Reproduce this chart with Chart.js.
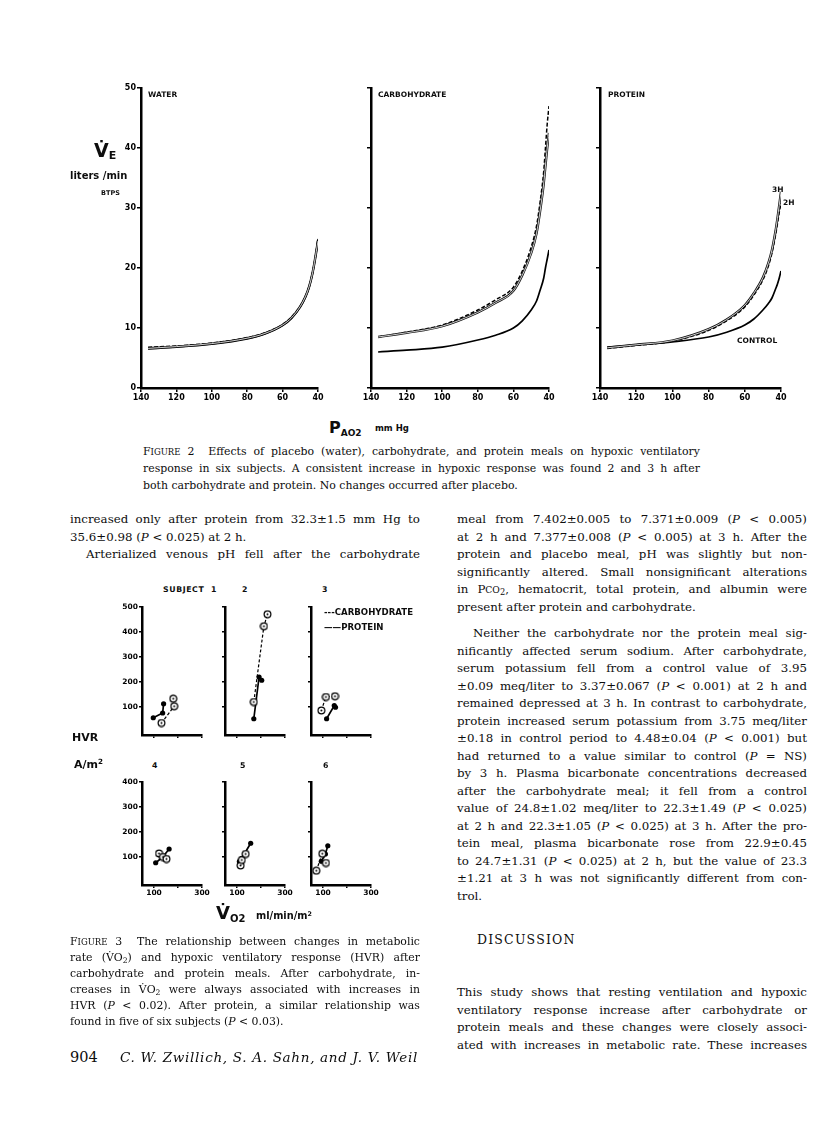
<!DOCTYPE html>
<html>
<head>
<meta charset="utf-8">
<script src="https://cdn.jsdelivr.net/npm/chart.js@4.4.0/dist/chart.umd.min.js"></script>
<style>
  html, body { margin: 0; padding: 0; background: #fff; }
  #page { position: relative; width: 816px; height: 1127px; overflow: hidden; background: #fff; color: #0d0d0d; }
  canvas { position: absolute; }
  .t { position: absolute; white-space: nowrap; }
  .sans { font-family: "DejaVu Sans", sans-serif; font-weight: bold; }
  .body { font-family: "DejaVu Serif", serif; font-size: 11.8px; }
  .cap { font-family: "DejaVu Serif", serif; font-size: 10.9px; }
  small { font-size: 78%; }
  sub { font-size: 70%; line-height: 0; vertical-align: -0.3em; }
  sup { font-size: 65%; line-height: 0; vertical-align: 0.5em; }
</style>
</head>
<body>
<div id="page"></div>
<script>
// Figure 2: ventilation (liters/min BTPS) against alveolar PO2 (mm Hg)
const pao2 = [136, 120, 100, 80, 70, 60, 55, 50, 47, 45, 43, 42, 41, 40];
const pao2Ticks = [140, 120, 100, 80, 60, 40];
const veTicks = [0, 10, 20, 30, 40, 50];

const waterControl = [6.5, 6.8, 7.3, 8.2, 9.0, 10.4, 11.6, 13.5, 15.2, 16.8, 19.2, 20.8, 22.6, 24.8];
const water2h = [6.8, 7.0, 7.5, 8.4, 9.2, 10.6, 11.8, 13.7, 15.4, 17.0, 19.4, 21.0, 22.8, 25.0];
const water3h = [6.6, 6.9, 7.4, 8.3, 9.1, 10.5, 11.7, 13.6, 15.3, 16.9, 19.3, 20.9, 22.7, 24.5];

const carboControl = [6.0, 6.3, 6.8, 8.0, 8.8, 10.0, 11.2, 13.0, 14.5, 16.3, 18.3, 20.0, 21.5, 23.0];
const carbo2h = [8.5, 9.3, 10.5, 13.0, 14.7, 16.8, 19.5, 23.5, 27.0, 31.0, 36.0, 40.0, 44.0, 47.0];
const carbo3h = [8.5, 9.2, 10.3, 12.6, 14.2, 16.2, 18.8, 22.5, 25.8, 29.5, 34.0, 37.0, 40.0, 42.5];

const proteinControl = [6.8, 7.2, 7.7, 8.5, 9.3, 10.5, 11.5, 13.0, 14.1, 15.0, 16.5, 17.3, 18.3, 19.5];
const protein2h = [6.6, 7.1, 7.8, 9.6, 11.2, 13.5, 15.5, 18.0, 20.3, 22.5, 25.5, 27.3, 29.2, 30.8];
const protein3h = [6.7, 7.2, 7.9, 9.8, 11.4, 13.8, 15.8, 18.4, 20.8, 23.0, 26.2, 28.2, 30.4, 32.7];

// Figure 3: HVR (A/m2) against VO2 (ml/min/m2), subjects 1-6, control / 2 h / 3 h
const carboVO2 = [[131, 184, 180], [170, 212, 227], [93, 112, 150], [121, 137, 152], [115, 120, 136], [72, 97, 112]];
const carboHVR = [[36, 103, 133], [120, 423, 471], [86, 140, 143], [114, 100, 92], [66, 88, 112], [45, 113, 76]];
const proteinVO2 = [[97, 136, 140], [170, 192, 203], [115, 147, 152], [107, 135, 163], [110, 120, 157], [93, 110, 120]];
const proteinHVR = [[57, 76, 113], [53, 220, 207], [53, 106, 99], [77, 98, 132], [82, 95, 155], [83, 112, 145]];
const hvrTicksTop = [100, 200, 300, 400, 500];
const hvrTicksBottom = [100, 200, 300, 400];
const vo2Ticks = [100, 200, 300];
const vo2TickLabels = [100, 300];

const page = document.getElementById('page');

// one line of text; w given = justified across w px
function txt(cls, x, yc, html, w, lh) {
  lh = lh || 16;
  const d = document.createElement('div');
  d.className = 't ' + cls;
  d.style.left = x + 'px';
  d.style.top = (yc - lh / 2) + 'px';
  d.style.lineHeight = lh + 'px';
  if (w) {
    d.style.width = w + 'px';
    d.style.display = 'flex';
    d.style.justifyContent = 'space-between';
    d.innerHTML = html.split(' ').map(s => '<span>' + s + '</span>').join('');
  } else {
    d.innerHTML = html;
  }
  page.appendChild(d);
  if (w) {
    let fs = parseFloat(getComputedStyle(d).fontSize);
    let guard = 0;
    while (d.scrollWidth > w + 0.5 && guard++ < 30) {
      fs -= 0.15;
      d.style.fontSize = fs + 'px';
    }
  }
  return d;
}

const tickFont = { family: 'DejaVu Sans', weight: 'bold', size: 8 };
const axisGrid = { drawOnChartArea: false, drawTicks: true, tickLength: 4, color: '#000', lineWidth: 1.5 };
const axisBorder = { display: true, color: '#000', width: 2.5 };

const pts = arr => pao2.map((p, i) => ({ x: p, y: arr[i] }));

function curvePanel(L, T, R, B, control, h2, h3, showY) {
  const padTop = 8, padRight = 12, yw = 36, xh = 22;
  const c = document.createElement('canvas');
  c.width = R - L + yw + padRight;
  c.height = B - T + padTop + xh;
  c.style.left = (L - yw) + 'px';
  c.style.top = (T - padTop) + 'px';
  page.appendChild(c);

  new Chart(c, {
    type: 'line',
    data: {
      datasets: [
        { data: pts(h3), borderColor: '#fff', borderWidth: 0.8, order: 0 },
        { data: pts(h3), borderColor: '#111', borderWidth: 2.4, order: 1 },
        { data: pts(h2), borderColor: '#000', borderWidth: 1.5, borderDash: [4, 2], order: 2 },
        { data: pts(control), borderColor: '#000', borderWidth: 1.7, order: 3 },
      ],
    },
    options: {
      responsive: false,
      animation: false,
      events: [],
      layout: { padding: { top: padTop, right: padRight, left: 0, bottom: 0 } },
      plugins: { legend: { display: false }, tooltip: { enabled: false } },
      elements: { point: { radius: 0 }, line: { cubicInterpolationMode: 'monotone' } },
      scales: {
        x: {
          type: 'linear', reverse: true, min: 40, max: 140,
          afterBuildTicks: a => { a.ticks = pao2Ticks.map(v => ({ value: v })); },
          afterFit: s => { s.height = xh; },
          grid: axisGrid, border: axisBorder,
          ticks: { font: tickFont, color: '#000', padding: 1, maxRotation: 0, autoSkip: false },
        },
        y: {
          type: 'linear', min: 0, max: 50,
          afterBuildTicks: a => { a.ticks = veTicks.map(v => ({ value: v })); },
          afterFit: s => { s.width = yw; },
          grid: axisGrid, border: axisBorder,
          ticks: { font: tickFont, color: '#000', padding: 1, callback: v => (showY ? String(v) : '') },
        },
      },
    },
  });
}

curvePanel(141, 88, 318, 388, waterControl, water2h, water3h, true);
curvePanel(371, 88, 549, 388, carboControl, carbo2h, carbo3h, false);
curvePanel(600, 88, 781, 388, proteinControl, protein2h, protein3h, false);

// open circle with a dot, used for the carbohydrate points
const ring = document.createElement('canvas');
ring.width = 9; ring.height = 9;
(() => {
  const g = ring.getContext('2d');
  g.beginPath(); g.arc(4.5, 4.5, 3.4, 0, Math.PI * 2);
  g.fillStyle = '#fff'; g.fill();
  g.lineWidth = 1.2; g.strokeStyle = '#000'; g.stroke();
  g.beginPath(); g.arc(4.5, 4.5, 1, 0, Math.PI * 2);
  g.fillStyle = '#000'; g.fill();
})();

function hvrPanel(i, L, T, B, ymax, yTicks, showY, showX) {
  const yw = 30, pr = 10, pt = 7, xh = 16;
  const c = document.createElement('canvas');
  c.width = 60 + yw + pr;
  c.height = B - T + pt + xh;
  c.style.left = (L - yw) + 'px';
  c.style.top = (T - pt) + 'px';
  page.appendChild(c);

  new Chart(c, {
    type: 'scatter',
    data: {
      datasets: [
        {
          data: carboVO2[i].map((x, k) => ({ x, y: carboHVR[i][k] })),
          showLine: true, borderColor: '#000', borderWidth: 1.2, borderDash: [3, 2],
          pointStyle: ring,
        },
        {
          data: proteinVO2[i].map((x, k) => ({ x, y: proteinHVR[i][k] })),
          showLine: true, borderColor: '#000', borderWidth: 1.7,
          pointStyle: 'circle', pointRadius: 2.6, pointBackgroundColor: '#000', pointBorderWidth: 0,
        },
      ],
    },
    options: {
      responsive: false,
      animation: false,
      events: [],
      layout: { padding: { top: pt, right: pr, left: 0, bottom: 0 } },
      plugins: { legend: { display: false }, tooltip: { enabled: false } },
      scales: {
        x: {
          type: 'linear', min: 50, max: 300,
          afterBuildTicks: a => { a.ticks = vo2Ticks.map(v => ({ value: v })); },
          afterFit: s => { s.height = xh; },
          grid: { ...axisGrid, tickLength: 3 }, border: axisBorder,
          ticks: {
            font: { ...tickFont, size: 7.5 }, color: '#000', padding: 1, maxRotation: 0, autoSkip: false,
            callback: v => (showX && vo2TickLabels.includes(v) ? String(v) : ''),
          },
        },
        y: {
          type: 'linear', min: -12, max: ymax,
          afterBuildTicks: a => { a.ticks = yTicks.map(v => ({ value: v })); },
          afterFit: s => { s.width = yw; },
          grid: { ...axisGrid, tickLength: 3 }, border: axisBorder,
          ticks: { font: { ...tickFont, size: 7.5 }, color: '#000', padding: 1, callback: v => (showY ? String(v) : '') },
        },
      },
    },
  });
}

const colLeft = [142, 225, 311];
for (let k = 0; k < 3; k++) {
  hvrPanel(k, colLeft[k], 607, 735, 500, hvrTicksTop, k === 0, false);
  hvrPanel(k + 3, colLeft[k], 782, 885, 400, hvrTicksBottom, k === 0, true);
}

// ---- Figure 2 labels ----
txt('sans', 148, 95, 'WATER', 0, 10).style.fontSize = '7.5px';
txt('sans', 378, 95, 'CARBOHYDRATE', 0, 10).style.fontSize = '7.5px';
txt('sans', 608, 95, 'PROTEIN', 0, 10).style.fontSize = '7.5px';
txt('sans', 772, 190, '3H', 0, 10).style.fontSize = '7.5px';
txt('sans', 783, 203, '2H', 0, 10).style.fontSize = '7.5px';
txt('sans', 737, 341, 'CONTROL', 0, 10).style.fontSize = '7.5px';

txt('sans', 94, 150, '<span style="font-size:19px">V̇</span><sub style="font-size:11px;vertical-align:-0.2em">E</sub>', 0, 24);
txt('sans', 70, 176, 'liters /min', 0, 14).style.fontSize = '10px';
txt('sans', 101, 193, 'BTPS', 0, 10).style.fontSize = '6.5px';
txt('sans', 329, 428, '<span style="font-size:16px">P</span><sub style="font-size:9px;vertical-align:-0.35em">AO2</sub>', 0, 22);
txt('sans', 375, 428, 'mm Hg', 0, 12).style.fontSize = '8.5px';

txt('cap', 143, 452, 'F<small>IGURE</small> 2&nbsp;&nbsp; Effects of placebo (water), carbohydrate, and protein meals on hypoxic ventilatory', 557);
txt('cap', 143, 469, 'response in six subjects. A consistent increase in hypoxic response was found 2 and 3 h after', 557);
txt('cap', 143, 486, 'both carbohydrate and protein. No changes occurred after placebo.');

// ---- body text ----
txt('body', 70, 519, 'increased only after protein from 32.3±1.5 mm Hg to', 350);
txt('body', 70, 536.5, '35.6±0.98 (<i>P</i> &lt; 0.025) at 2 h.');
txt('body', 86, 554, 'Arterialized venous pH fell after the carbohydrate', 334);

const rightLines = [
  ['meal from 7.402±0.005 to 7.371±0.009 (<i>P</i> &lt; 0.005)', 1],
  ['at 2 h and 7.377±0.008 (<i>P</i> &lt; 0.005) at 3 h. After the', 1],
  ['protein and placebo meal, pH was slightly but non-', 1],
  ['significantly altered. Small nonsignificant alterations', 1],
  ['in P<small>CO</small><sub>2</sub>, hematocrit, total protein, and albumin were', 1],
  ['present after protein and carbohydrate.', 0],
  ['Neither the carbohydrate nor the protein meal sig-', 2],
  ['nificantly affected serum sodium. After carbohydrate,', 1],
  ['serum potassium fell from a control value of 3.95', 1],
  ['±0.09 meq/liter to 3.37±0.067 (<i>P</i> &lt; 0.001) at 2 h and', 1],
  ['remained depressed at 3 h. In contrast to carbohydrate,', 1],
  ['protein increased serum potassium from 3.75 meq/liter', 1],
  ['±0.18 in control period to 4.48±0.04 (<i>P</i> &lt; 0.001) but', 1],
  ['had returned to a value similar to control (<i>P</i> = NS)', 1],
  ['by 3 h. Plasma bicarbonate concentrations decreased', 1],
  ['after the carbohydrate meal; it fell from a control', 1],
  ['value of 24.8±1.02 meq/liter to 22.3±1.49 (<i>P</i> &lt; 0.025)', 1],
  ['at 2 h and 22.3±1.05 (<i>P</i> &lt; 0.025) at 3 h. After the pro-', 1],
  ['tein meal, plasma bicarbonate rose from 22.9±0.45', 1],
  ['to 24.7±1.31 (<i>P</i> &lt; 0.025) at 2 h, but the value of 23.3', 1],
  ['±1.21 at 3 h was not significantly different from con-', 1],
  ['trol.', 0],
];
let yy = 519;
rightLines.forEach(([s, j]) => {
  if (j === 2) yy += 9;
  if (j === 2) txt('body', 473, yy, s, 334);
  else txt('body', 457, yy, s, j ? 350 : 0);
  yy += 17.5;
});

const disc = txt('body', 477, 940, 'DISCUSSION');
disc.style.fontSize = '12.5px';
disc.style.letterSpacing = '1.2px';
txt('body', 457, 992, 'This study shows that resting ventilation and hypoxic', 350);
txt('body', 457, 1009.5, 'ventilatory response increase after carbohydrate or', 350);
txt('body', 457, 1027, 'protein meals and these changes were closely associ-', 350);
txt('body', 457, 1044.5, 'ated with increases in metabolic rate. These increases', 350);

// ---- Figure 3 labels ----
const subj = txt('sans', 163, 590, 'SUBJECT&nbsp;&nbsp;1', 0, 10);
subj.style.fontSize = '7.8px'; subj.style.letterSpacing = '0.6px';
[['2', 242, 590], ['3', 322, 590], ['4', 152, 766], ['5', 240, 766], ['6', 323, 766]].forEach(([s, x, y]) => {
  txt('sans', x, y, s, 0, 10).style.fontSize = '7.8px';
});
txt('sans', 324, 612, '---CARBOHYDRATE', 0, 10).style.fontSize = '8.6px';
txt('sans', 324, 627, '——PROTEIN', 0, 10).style.fontSize = '8.6px';
txt('sans', 72, 738, 'HVR', 0, 14).style.fontSize = '11px';
txt('sans', 74, 765, 'A/m<sup>2</sup>', 0, 14).style.fontSize = '11px';
txt('sans', 216, 913, '<span style="font-size:18px">V̇</span><sub style="font-size:10px;vertical-align:-0.3em">O2</sub>', 0, 24);
txt('sans', 256, 916, 'ml/min/m<sup>2</sup>', 0, 14).style.fontSize = '9.8px';

const cap3 = [
  ['F<small>IGURE</small> 3&nbsp;&nbsp; The relationship between changes in metabolic', 1],
  ['rate (V̇O<sub>2</sub>) and hypoxic ventilatory response (HVR) after', 1],
  ['carbohydrate and protein meals. After carbohydrate, in-', 1],
  ['creases in V̇O<sub>2</sub> were always associated with increases in', 1],
  ['HVR (<i>P</i> &lt; 0.02). After protein, a similar relationship was', 1],
  ['found in five of six subjects (<i>P</i> &lt; 0.03).', 0],
];
cap3.forEach(([s, j], i) => txt('cap', 70, 942 + i * 16, s, j ? 350 : 0));

const pg = txt('body', 70, 1057, '904', 0, 18);
pg.style.fontSize = '14.5px';
const au = txt('body', 120, 1057, '<i>C. W. Zwillich, S. A. Sahn, and J. V. Weil</i>', 0, 18);
au.style.fontSize = '13.5px'; au.style.letterSpacing = '0.7px';
</script>
</body>
</html>
